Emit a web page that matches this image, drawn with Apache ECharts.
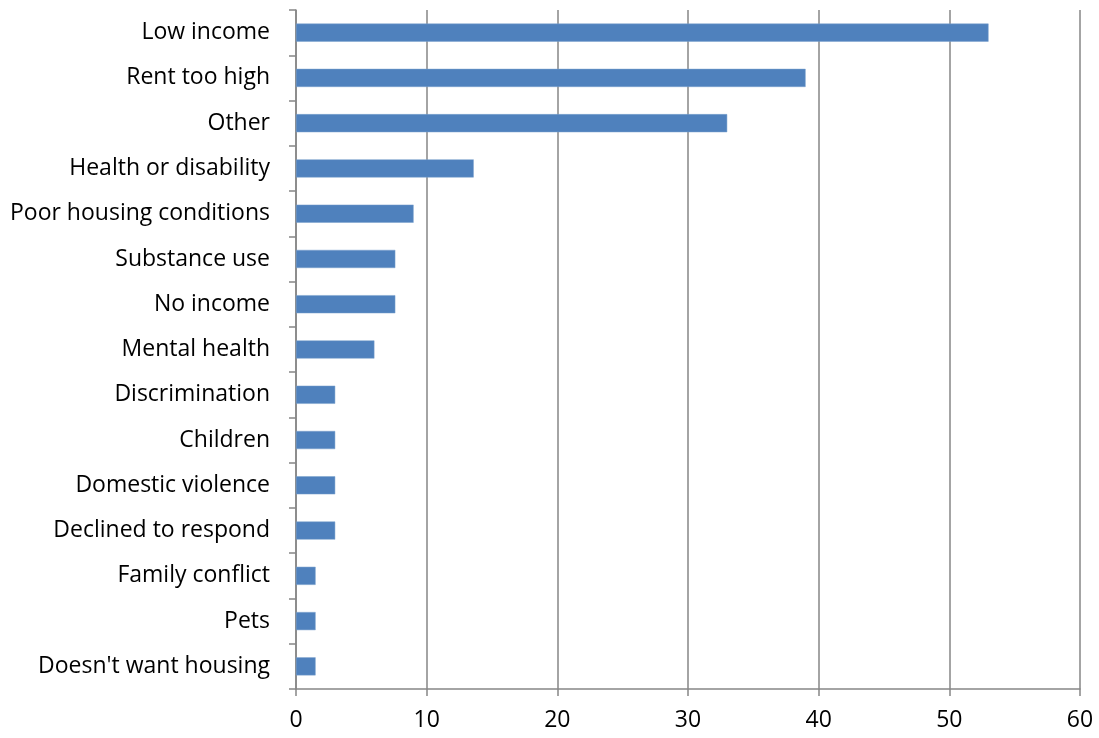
<!DOCTYPE html>
<html>
<head>
<meta charset="utf-8">
<script src="https://cdn.jsdelivr.net/npm/echarts@6/dist/echarts.min.js"></script>
<style>
	html, body { margin: 0; padding: 0; background: #fff; }
	#chart_box { width: 1099px; height: 738px; }
</style>
</head>
<body>
<div id="chart_box"></div>
<script type="text/javascript">
// bottom-to-top order, as echarts draws category axes upward
var categories = [
	"Doesn't want housing",
	'Pets',
	'Family conflict',
	'Declined to respond',
	'Domestic violence',
	'Children',
	'Discrimination',
	'Mental health',
	'No income',
	'Substance use',
	'Poor housing conditions',
	'Health or disability',
	'Other',
	'Rent too high',
	'Low income'
];
var values = [1.5, 1.5, 1.5, 3, 3, 3, 3, 6, 7.6, 7.6, 9, 13.6, 33, 39, 53];
var xTicks = [0, 10, 20, 30, 40, 50, 60];

var myChart = echarts.init(document.getElementById('chart_box'));

var axisGray = '#868686';
var font = 'Open Sans';

var option = {
	animation: false,
	grid: {
		left: 296,
		right: 19,
		top: 10,
		bottom: 49
	},
	xAxis: {
		type: 'value',
		min: xTicks[0],
		max: xTicks[xTicks.length - 1],
		interval: xTicks[1] - xTicks[0],
		axisLine: { show: true, lineStyle: { color: axisGray, width: 1.5 } },
		axisTick: { show: true, length: 7, lineStyle: { color: axisGray, width: 1.5 } },
		splitLine: { show: true, lineStyle: { color: axisGray, width: 1.5 } },
		axisLabel: {
			color: '#000',
			fontFamily: font,
			fontSize: 23,
			margin: 20
		}
	},
	yAxis: {
		type: 'category',
		data: categories,
		axisLine: { show: true, lineStyle: { color: axisGray, width: 1.5 } },
		axisTick: { show: true, length: 7, lineStyle: { color: axisGray, width: 1.5 } },
		axisLabel: {
			color: '#000',
			fontFamily: font,
			fontSize: 23,
			margin: 26
		}
	},
	series: [
		{
			type: 'bar',
			data: values,
			barWidth: '40%',
			itemStyle: {
				color: '#4F81BD',
				borderColor: '#7BA0CD',
				borderWidth: 0.5
			}
		}
	]
};
myChart.setOption(option);
</script>
</body>
</html>
